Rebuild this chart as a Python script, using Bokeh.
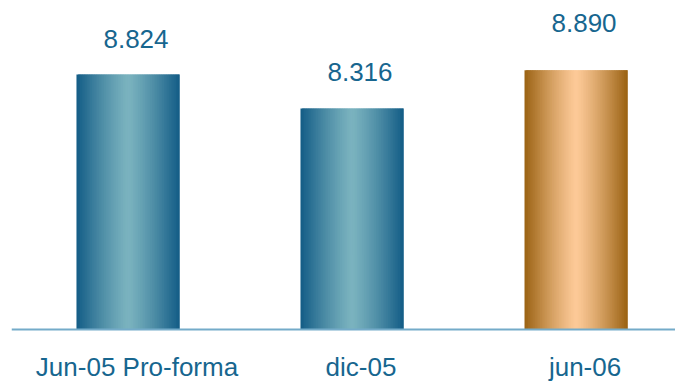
import numpy as np
from bokeh.plotting import figure
from bokeh.models import Span, ColumnDataSource
from bokeh.core.properties import value
from bokeh.embed import file_html
from bokeh.resources import INLINE

# ---- data ----
categories = ["Jun-05 Pro-forma", "dic-05", "jun-06"]
values = [8824, 8316, 8890]
value_labels = ["8.824", "8.316", "8.890"]
baseline = 5000

# ---- style ----
edge_colors = [(19, 92, 134), (19, 92, 134), (154, 98, 18)]
center_colors = [(123, 179, 191), (123, 179, 191), (253, 202, 152)]
label_offsets = [-36, -36, -47]
bar_width = 0.46
n_strips = 60
text_color = "#17668f"

p = figure(width=675, height=385, x_range=(-0.520, 2.444), y_range=(4160, 9935),
           x_axis_type=None, y_axis_type=None,
           output_backend="svg", toolbar_location=None,
           min_border_left=11, min_border_right=0, min_border_top=0, min_border_bottom=0)
p.grid.visible = False
p.outline_line_color = None
p.background_fill_color = "white"

# gradient bars made of thin vertical strips (overlapping to avoid seams)
lefts, rights, tops, cols = [], [], [], []
sw = bar_width / n_strips
for i, v in enumerate(values):
    e = np.array(edge_colors[i], dtype=float)
    c = np.array(center_colors[i], dtype=float)
    bl = i - bar_width / 2
    br = i + bar_width / 2
    for k in range(n_strips):
        u = (k + 0.5) / n_strips
        t = abs(2 * u - 1) ** 1.2
        col = c + (e - c) * t
        lefts.append(bl + k * sw)
        rights.append(min(bl + (k + 2) * sw, br))
        tops.append(v)
        cols.append("#%02x%02x%02x" % tuple(int(round(x)) for x in col))
src = ColumnDataSource(dict(left=lefts, right=rights, top=tops, color=cols))
p.quad(left="left", right="right", top="top", bottom=baseline, source=src,
       fill_color="color", line_color=None)

# baseline
p.add_layout(Span(location=baseline, dimension="width", line_color="#74abc9", line_width=2))

idx = list(range(len(categories)))
lsrc = ColumnDataSource(dict(x=idx, y=values, text=value_labels, yo=label_offsets))
p.text(x="x", y="y", text="text", x_offset=8, y_offset="yo", source=lsrc,
       text_align="center", text_baseline="alphabetic",
       text_font=value("Liberation Sans"), text_font_size="26px", text_color=text_color)
p.text(x=idx, y=[baseline] * len(categories), text=categories, x_offset=9, y_offset=37,
       text_align="center", text_baseline="middle",
       text_font=value("Liberation Sans"), text_font_size="26px", text_color=text_color)

open("out.html", "w").write(file_html(p, INLINE))
